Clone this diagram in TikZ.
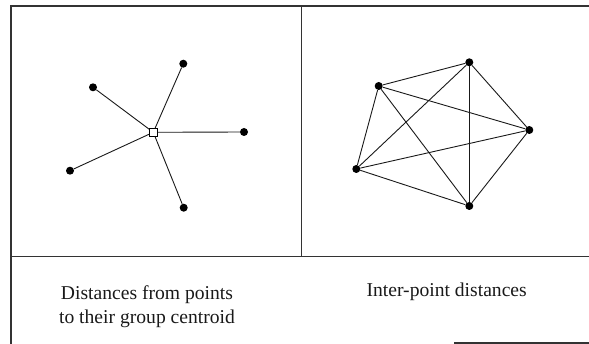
\documentclass[tikz,border=0pt]{standalone}
\usepackage{fontspec}
\setmainfont{Liberation Serif}
\begin{document}
\begin{tikzpicture}[x=1pt,y=-1pt,
  frame/.style={line width=1.2pt,draw=black!80},
  edge/.style={line width=0.9pt,draw=black!90},
  dot/.style={circle,fill=black,inner sep=0pt,minimum size=8pt},
  centroid/.style={rectangle,draw=black,fill=white,line width=0.9pt,inner sep=0pt,minimum size=7.5pt},
  label/.style={font=\fontsize{19.6}{24}\selectfont,align=center,text=black!90,inner sep=0pt}]
\useasboundingbox (0,0) rectangle (589,344);
% frame
\coordinate (tl) at (11,6);
\coordinate (tr) at (589,6);
\coordinate (bl) at (11,344);
\coordinate (dt) at (301.5,6);
\coordinate (db) at (301.5,256.5);
\coordinate (ml) at (11,256.5);
\coordinate (mr) at (589,256.5);
\coordinate (bs) at (454,343);
\coordinate (be) at (589,343);
\draw[frame] (bl) -- (tl) -- (tr);
\draw[frame] (dt) -- (db);
\draw[frame] (ml) -- (mr);
\draw[frame] (bs) -- (be);
% left panel
\node[centroid] (c) at (153.3,132.3) {};
\node[dot] (p1) at (183.3,63.7) {};
\node[dot] (p2) at (93,87.3) {};
\node[dot] (p3) at (244,132) {};
\node[dot] (p4) at (70,170.7) {};
\node[dot] (p5) at (183.7,207.7) {};
\foreach \p in {p1,p2,p3,p4,p5} \draw[edge] (c) -- (\p);
% right panel
\node[dot] (a) at (469.3,62.3) {};
\node[dot] (b) at (378.7,86) {};
\node[dot] (cc) at (529.3,130) {};
\node[dot] (d) at (356.3,169) {};
\node[dot] (e) at (469.3,206) {};
\foreach \u/\v in {a/b,a/cc,a/d,a/e,b/cc,b/d,b/e,cc/d,cc/e,d/e} \draw[edge] (\u) -- (\v);
% labels
\node[label,anchor=base] (t1) at (147,323.3) {Distances from points\\to their group centroid};
\node[label,anchor=base] (t2) at (446.7,296.7) {Inter-point distances};
\end{tikzpicture}
\end{document}
